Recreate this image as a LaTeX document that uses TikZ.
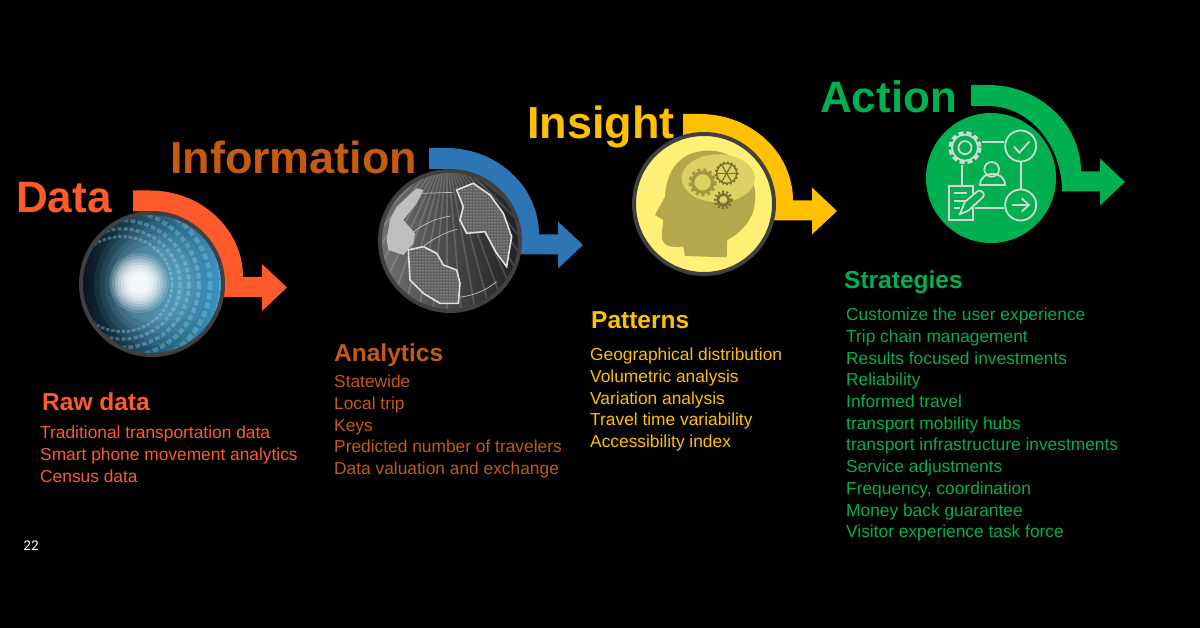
\documentclass[tikz,border=0pt]{standalone}
\usepackage{fontspec}
\setmainfont{Liberation Sans}
\newfontfamily\pagefont{Carlito}
\usetikzlibrary{patterns}
\definecolor{dataorange}{HTML}{FF5A2C}
\definecolor{infobrown}{HTML}{C55A11}
\definecolor{infoblue}{HTML}{2E75B6}
\definecolor{insightgold}{HTML}{FFC000}
\definecolor{actiongreen}{HTML}{00B050}
\definecolor{ringgrey}{HTML}{404040}
\definecolor{headolive}{HTML}{B5A84C}
\definecolor{gearolive}{HTML}{77702F}
\definecolor{lensyellow}{HTML}{FFF176}
\definecolor{iconwhite}{HTML}{D4D8D4}
\definecolor{tunneldark}{HTML}{071019}
\definecolor{tunnelmid}{HTML}{123F5A}
\definecolor{tunnelblue}{HTML}{3D9CC8}
\begin{document}
\begin{tikzpicture}[
x=1pt, y=-1pt,
stagetitle/.style={font=\bfseries\fontsize{44}{44}\selectfont, anchor=base west, inner sep=0pt},
subhead/.style={font=\bfseries\fontsize{24.5}{26}\selectfont, anchor=base west, inner sep=0pt},
itemlist/.style={font=\fontsize{17.35}{21.7}\selectfont, anchor=north west, inner sep=0pt, align=left},
lens/.style={circle, draw=ringgrey, line width=4pt, inner sep=0pt},
stagearrow/.pic={
	\fill[pic actions] (0,0) -- (17,0) arc[start angle=90, end angle=0, x radius=93, y radius=-86.5]
	-- (129,86.5) -- (129,73.5) -- (154,97) -- (129,120.5) -- (129,106.5) -- (91,106.5)
	arc[start angle=0, end angle=90, x radius=74, y radius=-85.5] -- (0,21) -- cycle;
},
icon/.style={draw=iconwhite, line width=1.8pt},
continent/.style={draw=black!12, line width=1.6pt, fill=black!62}
]
\useasboundingbox (0,0) rectangle (1200,628);
\fill[black] (0,0) rectangle (1200,628);

\pic[fill=dataorange] at (133,190.5) {stagearrow};
\pic[fill=infoblue] at (429,148) {stagearrow};
\pic[fill=insightgold] at (683,114) {stagearrow};
\pic[fill=actiongreen] at (971,85) {stagearrow};

% data tunnel
\coordinate (datac) at (152,284);
\begin{scope}
\clip (datac) circle (71);
\shade[left color=tunneldark, middle color=tunnelmid, right color=tunnelblue] (78,210) rectangle (226,358);
\foreach \r/\o in {50/.32,58/.3,67/.28,77/.26,88/.24,100/.22,113/.2}
	\draw[cyan!25!white, opacity=\o, line width=\r*.055pt, dash pattern=on {\r*.07pt} off {\r*.035pt}] (122,284) ellipse ({\r} and {\r*.95});
\foreach \r/\o in {62/.08,56/.08,50/.1,44/.1,38/.12}
	\fill[cyan!40!white, opacity=\o] (150,284) ellipse ({\r*.9} and {\r});
\foreach \r/\o in {30/.15,27/.2,24/.25,21/.3,18/.35,15/.4,12/.4,9/.4}
	\fill[white, opacity=\o] (139,283) ellipse ({\r} and {\r});
\end{scope}
\node[lens, minimum size=142pt] (datalens) at (datac) {};

% info globe
\coordinate (infoc) at (450,241);
\begin{scope}
\clip (infoc) circle (69);
\shade[left color=black!55, right color=black!88] (378,170) rectangle (522,312);
\foreach \a in {10,15,...,170}
	\draw[white, opacity=.16, line width=1.6pt] (447,150) -- ++(\a:180);
\begin{scope}[shift={(360,140)}, x=.3333pt, y=-.3333pt]
\fill[black!25] (90,240) -- (110,200) -- (170,145) -- (190,150) -- (170,190) -- (130,240) -- (165,280) -- (160,310) -- (130,345) -- (85,330) -- (80,300) -- cycle;
\draw[continent] (145,330) -- (190,320) -- (230,340) -- (250,375) -- (290,390) -- (300,430) -- (295,490) -- (240,490) -- (190,460) -- (150,420) -- cycle;
\draw[continent] (290,150) -- (340,130) -- (390,165) -- (430,220) -- (455,290) -- (440,380) -- (410,340) -- (375,275) -- (320,280) -- (300,240) -- (310,200) -- cycle;
\fill[pattern=dots, pattern color=black!8] (145,330) -- (190,320) -- (230,340) -- (250,375) -- (290,390) -- (300,430) -- (295,490) -- (240,490) -- (190,460) -- (150,420) -- cycle;
\fill[pattern=dots, pattern color=black!8] (290,150) -- (340,130) -- (390,165) -- (430,220) -- (455,290) -- (440,380) -- (410,340) -- (375,275) -- (320,280) -- (300,240) -- (310,200) -- cycle;
\draw[black!25, line width=.7pt] (185,160) -- (280,157);
\draw[black!25, line width=.7pt] (150,285) .. controls (190,250) and (230,235) .. (272,228);
\draw[black!25, line width=.7pt] (190,320) .. controls (220,295) and (260,275) .. (292,268);
\draw[black!25, line width=.7pt] (295,472) .. controls (340,468) and (380,450) .. (410,425);
\end{scope}
\end{scope}
\node[lens, minimum size=140pt] (infolens) at (infoc) {};

% insight head
\coordinate (insightc) at (704,204);
\fill[lensyellow] (insightc) circle (70);
\begin{scope}[shift={(620,100)}, x=.3333pt, y=-.3333pt]
\fill[headolive] (195,468) -- (320,472) -- (322,420) .. controls (370,395) and (405,350) .. (405,300)
	.. controls (415,230) and (350,152) .. (270,152) .. controls (200,150) and (140,190) .. (135,290)
	-- (105,345) -- (130,360) -- (125,405) .. controls (125,440) and (150,442) .. (190,440) -- cycle;
\fill[lensyellow!55!headolive] (295,235) ellipse (110 and 72);
\draw[headolive!70!gearolive, line width=3.5pt] (248,247) circle (30);
\draw[headolive!70!gearolive, line width=3pt, dash pattern=on 3pt off 3pt] (248,247) circle (38);
\draw[gearolive, line width=1.4pt] (320,220) circle (30);
\draw[gearolive, line width=2pt, dash pattern=on 1.5pt off 2.5pt] (320,220) circle (33);
\foreach \a in {0,60,120}
	\draw[gearolive, line width=1.2pt] (320,220) ++(\a:30) -- ++(\a+180:60);
\draw[gearolive, line width=2.6pt] (310,300) circle (17);
\draw[gearolive, line width=2.2pt, dash pattern=on 2pt off 2.2pt] (310,300) circle (25);
\end{scope}
\node[lens, minimum size=140pt] (insightlens) at (insightc) {};

% action icon
\node[circle, fill=actiongreen, minimum size=130pt, inner sep=0pt] (actionlens) at (991,178) {};
\begin{scope}[shift={(910,80)}, x=.3333pt, y=-.3333pt]
\node[circle, icon, minimum size=31pt, inner sep=0pt] (check) at (332,198) {};
\node[circle, icon, minimum size=31pt, inner sep=0pt] (next) at (332,375) {};
\node[circle, icon, minimum size=26pt, inner sep=0pt] (gear) at (165,203) {};
\node[circle, icon, minimum size=13pt, inner sep=0pt] (hub) at (165,203) {};
\draw[iconwhite, line width=3pt, dash pattern=on 5pt off 3pt] (gear) circle (45);
\node[icon, minimum width=24pt, minimum height=34pt, inner sep=0pt] (sheet) at (153,369) {};
\coordinate (gearout) at (215,185);
\coordinate (sheetout) at (195,385);
\draw[icon] (gearout) -- (gearout -| check.west);
\draw[icon] (157,255) -- (157,318);
\draw[icon] (check) -- (next);
\draw[icon] (sheetout) -- (sheetout -| next.west);
\draw[icon] (245,268) circle (22);
\draw[icon] (210,315) .. controls (210,270) and (285,270) .. (285,315) -- cycle;
\draw[icon] (312,200) -- (328,218) -- (358,185);
\draw[icon] (305,375) -- (357,375);
\draw[icon] (335,355) -- (357,375) -- (335,395);
\foreach \y/\w in {340/170,362/165,385/150}
	\draw[icon] (133,\y) -- (\w,\y);
\draw[icon, fill=actiongreen] (150,402) -- (165,365) -- (205,332) .. controls (225,332) and (225,350) .. (215,355) -- (175,392) -- cycle;
\end{scope}

% titles
\node[stagetitle, text=dataorange] (datatitle) at (16,213) {Data};
\node[stagetitle, text=infobrown, font=\bfseries\fontsize{44.9}{46}\selectfont] (infotitle) at (170,174) {Information};
\node[stagetitle, text=insightgold, font=\bfseries\fontsize{45}{46}\selectfont] (insighttitle) at (527,139) {Insight};
\node[stagetitle, text=actiongreen] (actiontitle) at (820,113) {Action};

% lists
\node[subhead, text=dataorange] (rawhead) at (42,410) {Raw data};
\node[itemlist, text=dataorange] (rawlist) at (40,426) {Traditional transportation data\\Smart phone movement analytics\\Census data};
\node[subhead, text=infobrown] (analyticshead) at (334,362) {Analytics};
\node[itemlist, text=infobrown] (analyticslist) at (334,375) {Statewide\\Local trip\\Keys\\Predicted number of travelers\\Data valuation and exchange};
\node[subhead, text=insightgold] (patternshead) at (591,329) {Patterns};
\node[itemlist, text=insightgold] (patternslist) at (590,348) {Geographical distribution\\Volumetric analysis\\Variation analysis\\Travel time variability\\Accessibility index};
\node[subhead, text=actiongreen] (strategieshead) at (844,289) {Strategies};
\node[itemlist, text=actiongreen] (strategieslist) at (846,308) {Customize the user experience\\Trip chain management\\Results focused investments\\Reliability\\Informed travel\\transport mobility hubs\\transport infrastructure investments\\Service adjustments\\Frequency, coordination\\Money back guarantee\\Visitor experience task force};
\node[text=white, font=\pagefont\fontsize{15}{15}\selectfont, inner sep=0pt] (pagenum) at (31,546) {22};
\end{tikzpicture}
\end{document}
